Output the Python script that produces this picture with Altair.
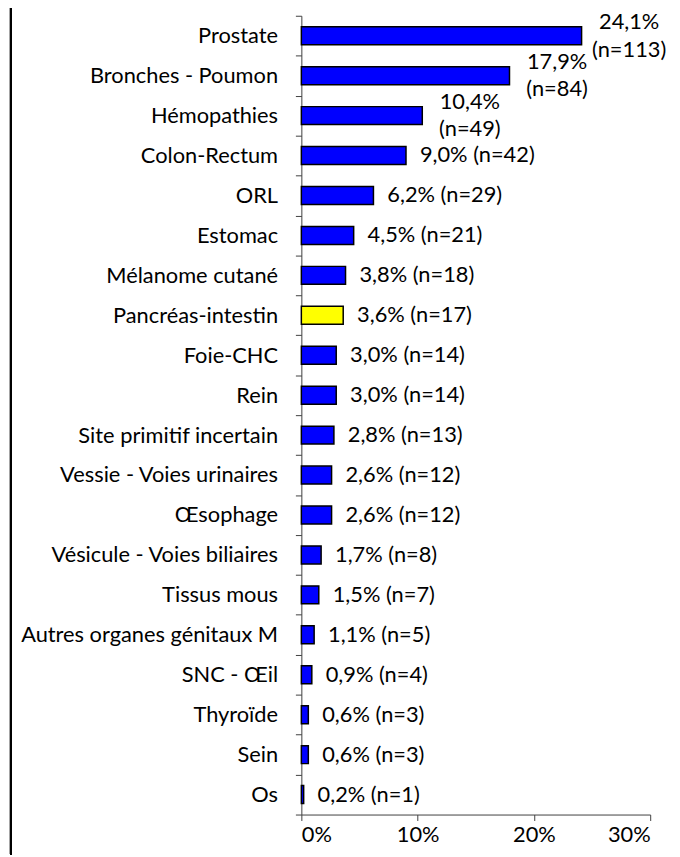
import altair as alt
import pandas as pd

categories = [
    "Prostate", "Bronches - Poumon", "Hémopathies", "Colon-Rectum", "ORL",
    "Estomac", "Mélanome cutané", "Pancréas-intestin", "Foie-CHC", "Rein",
    "Site primitif incertain", "Vessie - Voies urinaires", "Œsophage",
    "Vésicule - Voies biliaires", "Tissus mous", "Autres organes génitaux M",
    "SNC - Œil", "Thyroïde", "Sein", "Os",
]
percent = [24.1, 17.9, 10.4, 9.0, 6.2, 4.5, 3.8, 3.6, 3.0, 3.0,
           2.8, 2.6, 2.6, 1.7, 1.5, 1.1, 0.9, 0.6, 0.6, 0.2]
counts = [113, 84, 49, 42, 29, 21, 18, 17, 14, 14,
          13, 12, 12, 8, 7, 5, 4, 3, 3, 1]
highlight = ["Pancréas-intestin"]
x_ticks = [0, 0.1, 0.2, 0.3]

FONT = "Lato"
FS = 22
W, H = 352, 806
LH = 28


def fmt(p, n, wrap):
    s = f"{p:.1f}".replace(".", ",") + "%"
    return s + ("\n" if wrap else " ") + f"(n={n})"


df = pd.DataFrame({"cat": categories, "pct": percent, "n": counts})
df["val"] = df["pct"] / 100
df["wrap"] = df["pct"] > 10
df["label"] = [fmt(p, n, w) for p, n, w in zip(df["pct"], df["n"], df["wrap"])]
df["hl"] = df["cat"].isin(highlight)

y_enc = alt.Y(
    "cat:N", sort=categories, title=None,
    scale=alt.Scale(paddingInner=0, paddingOuter=0),
    axis=alt.Axis(
        tickBand="extent", tickSize=6, labelPadding=18, domainColor="#404040",
        tickColor="#404040", labelColor="black", labelFont=FONT, labelFontSize=FS,
        labelLimit=300, grid=False,
    ),
)
x_enc = alt.X(
    "val:Q", title=None,
    scale=alt.Scale(domain=[0, 0.3], nice=False),
    axis=alt.Axis(
        values=x_ticks, format=".0%", tickSize=6, labelPadding=4,
        domainColor="#404040", tickColor="#404040", labelColor="black",
        labelFont=FONT, labelFontSize=FS, grid=False,
    ),
)

base = alt.Chart(df)

bars = base.mark_bar(height={"band": 0.45}, stroke="black", strokeWidth=1.5).encode(
    x=x_enc, y=y_enc,
    color=alt.condition(alt.datum.hl, alt.value("#FFFF00"), alt.value("#0000FF")),
)

single = base.transform_filter(~alt.datum.wrap).mark_text(
    align="left", baseline="middle", dx=14, font=FONT, fontSize=FS, color="black"
).encode(x="val:Q", y=alt.Y("cat:N", sort=categories), text="label:N")

wrapped = base.transform_filter(alt.datum.wrap).mark_text(
    align="center", baseline="middle", dx=48, dy=-LH / 2, font=FONT, fontSize=FS,
    color="black", lineBreak="\n", lineHeight=LH,
).encode(x="val:Q", y=alt.Y("cat:N", sort=categories), text="label:N")

border = alt.Chart(df).mark_rule(color="black", strokeWidth=2).encode(
    x=alt.value(-293), y=alt.value(-10), y2=alt.value(H + 40)
)

chart = alt.layer(bars, single, wrapped, border).properties(
    width=W, height=H,
    autosize=alt.AutoSizeParams(type="none"),
    padding={"left": 296, "top": 4, "right": 22, "bottom": 38},
).configure_view(stroke=None)

chart.save("out.html", embed_options={"renderer": "svg", "actions": False})
